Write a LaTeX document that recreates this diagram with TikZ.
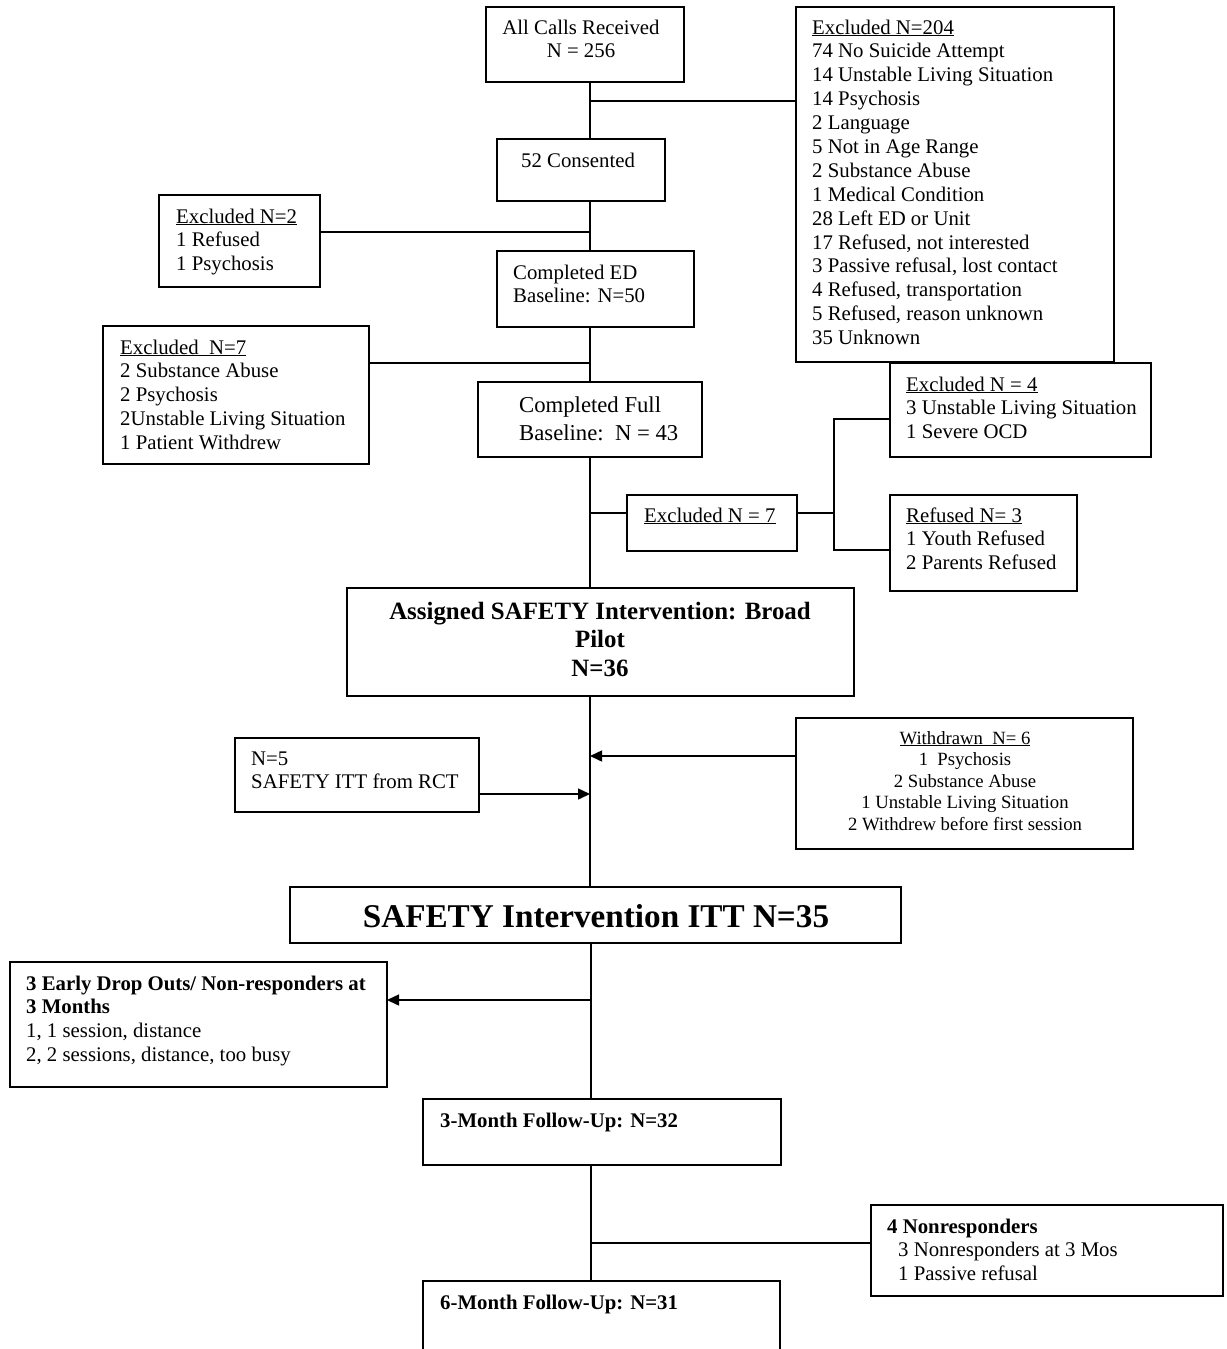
\documentclass[tikz,border=0pt]{standalone}
\usepackage{fontspec}
\setmainfont{Liberation Serif}
\usetikzlibrary{arrows.meta}
\newcommand\mybox[5]{\node[box, minimum width={#4-#2}, minimum height={#5-#3}] (#1) at (#2,#3) {};}
\newcommand\tl[1]{\begin{tabular}[t]{@{}l@{}}#1\end{tabular}}
\newcommand\tc[1]{\begin{tabular}[t]{@{}c@{}}#1\end{tabular}}
\begin{document}
\begin{tikzpicture}[x=1pt,y=-1pt,
  box/.style={draw, line width=1.6pt, inner sep=0pt, outer sep=0pt, anchor=north west},
  txt/.style={inner sep=0pt, anchor=base west, font=\fontsize{20.8}{23.9}\selectfont},
  ctxt/.style={inner sep=0pt, anchor=base, font=\fontsize{20.8}{23.9}\selectfont},
  conn/.style={line width=1.5pt},
  arr/.style={line width=1.5pt, -{Triangle[length=12pt,width=11pt]}},
]
\useasboundingbox (0,0) rectangle (1226,1349);
\clip (0,0) rectangle (1226,1349);
% boxes
\mybox{calls}{486}{7}{684}{82}
\mybox{ex204}{796}{7}{1114}{362}
\mybox{cons}{497}{139}{665}{201}
\mybox{ex2}{159}{195}{320}{287}
\mybox{ed}{497}{251}{694}{327}
\mybox{ex7}{103}{326}{369}{464}
\mybox{full}{478}{382}{702}{457}
\mybox{ex4}{890}{363}{1151}{457}
\mybox{exmid}{627}{495}{797}{551}
\mybox{ref}{890}{495}{1077}{591}
\mybox{assigned}{347}{588}{854}{696}
\mybox{n5}{235}{738}{479}{812}
\mybox{wd}{796}{718}{1133}{849}
\mybox{itt}{290}{887}{901}{943}
\mybox{early}{10}{962}{387}{1087}
\mybox{mthree}{423}{1099}{781}{1165}
\mybox{nonr}{871}{1205}{1223}{1296}
\mybox{msix}{423}{1281}{780}{1365}
% texts
\node[ctxt] (calls-t) at (581,34) {\tc{All Calls Received\\N = 256}};
\node[txt] (ex204-t) at (812,34) {\tl{\underline{Excluded N=204}\\74 No Suicide Attempt\\14 Unstable Living Situation\\14 Psychosis\\2 Language\\5 Not in Age Range\\2 Substance Abuse\\1 Medical Condition\\28 Left ED or Unit\\17 Refused, not interested\\3 Passive refusal, lost contact\\4 Refused, transportation\\5 Refused, reason unknown\\35 Unknown}};
\node[txt] (cons-t) at (521,167) {52 Consented};
\node[txt] (ex2-t) at (176,223) {\tl{\underline{Excluded N=2}\\1 Refused\\1 Psychosis}};
\node[txt] (ed-t) at (513,279) {\tl{Completed ED\\Baseline: N=50}};
\node[txt] (ex7-t) at (120,354) {\tl{\underline{Excluded\ \ N=7}\\2 Substance Abuse\\2 Psychosis\\2Unstable Living Situation\\1 Patient Withdrew}};
\node[txt, font=\fontsize{22.7}{28}\selectfont] (full-t) at (519,412) {\tl{Completed Full\\Baseline:\ \ N = 43}};
\node[txt] (ex4-t) at (906,391) {\tl{\underline{Excluded N = 4}\\3 Unstable Living Situation\\1 Severe OCD}};
\node[txt] (exmid-t) at (644,522) {\underline{Excluded N = 7}};
\node[txt] (ref-t) at (906,522) {\tl{\underline{Refused N= 3}\\1 Youth Refused\\2 Parents Refused}};
\node[ctxt, font=\fontsize{24.9}{28.6}\selectfont\bfseries] (assigned-t) at (600,619) {\tc{Assigned SAFETY Intervention: Broad\\Pilot\\N=36}};
\node[txt] (n5-t) at (251,765) {\tl{N=5\\SAFETY ITT from RCT}};
\node[ctxt, font=\fontsize{18.7}{21.5}\selectfont] (wd-t) at (965,744) {\tc{\underline{Withdrawn\ \ N= 6}\\1\ \ Psychosis\\2 Substance Abuse\\1 Unstable Living Situation\\2 Withdrew before first session}};
\node[ctxt, font=\fontsize{33.2}{38}\selectfont\bfseries] (itt-t) at (596,927) {SAFETY Intervention ITT N=35};
\node[txt] (early-t) at (26,990) {\tl{\textbf{3 Early Drop Outs/ Non-responders at}\\\textbf{3 Months}\\1, 1 session, distance\\2, 2 sessions, distance, too busy}};
\node[txt, font=\fontsize{20.8}{23.9}\selectfont\bfseries] (mthree-t) at (440,1127) {3-Month Follow-Up: N=32};
\node[txt] (nonr-t) at (887,1233) {\tl{\textbf{4 Nonresponders}\\\hspace*{11pt}3 Nonresponders at 3 Mos\\\hspace*{11pt}1 Passive refusal}};
\node[txt, font=\fontsize{20.8}{23.9}\selectfont\bfseries] (msix-t) at (440,1309) {6-Month Follow-Up: N=31};
% connectors
\coordinate (ax) at (590,0);
\coordinate (axb) at (591,0);
\draw[conn] (calls.south -| ax) -- (cons.north -| ax);
\coordinate (j204) at (590,101);
\draw[conn] (j204) -- (j204 -| ex204.west);
\draw[conn] (cons.south -| ax) -- (ed.north -| ax);
\coordinate (j2) at (590,232);
\draw[conn] (ex2.east |- j2) -- (j2);
\draw[conn] (ed.south -| ax) -- (full.north -| ax);
\coordinate (j7) at (590,363);
\draw[conn] (ex7.east |- j7) -- (j7);
\draw[conn] (full.south -| ax) -- (assigned.north -| ax);
\coordinate (jm) at (590,513);
\draw[conn] (jm) -- (jm -| exmid.west);
\coordinate (sp) at (834,513);
\draw[conn] (sp -| exmid.east) -- (sp);
\coordinate (spf) at (834,419);
\coordinate (spr) at (834,550);
\draw[conn] (spf -| ex4.west) -- (spf) -- (spr) -- (spr -| ref.west);
\draw[conn] (assigned.south -| ax) -- (itt.north -| ax);
\coordinate (aw) at (590,756);
\draw[arr] (aw -| wd.west) -- (aw);
\coordinate (an) at (590,794);
\draw[arr] (an -| n5.east) -- (an);
\draw[conn] (itt.south -| axb) -- (mthree.north -| axb);
\coordinate (ae) at (591,1000);
\draw[arr] (ae) -- (ae -| early.east);
\draw[conn] (mthree.south -| axb) -- (msix.north -| axb);
\coordinate (anr) at (591,1243);
\draw[conn] (anr) -- (anr -| nonr.west);
\end{tikzpicture}
\end{document}
